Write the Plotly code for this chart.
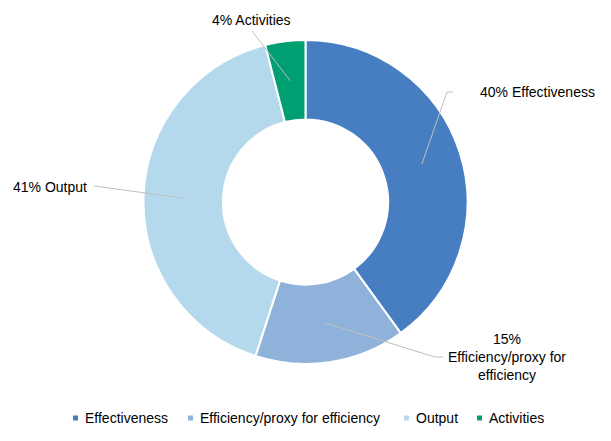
import math
import plotly.graph_objects as go

categories = ["Effectiveness", "Efficiency/proxy for efficiency", "Output", "Activities"]
shares = [40, 15, 41, 4]
label_texts = ["40% Effectiveness", "15%<br>Efficiency/proxy for<br>efficiency",
               "41% Output", "4% Activities"]
colors = ["#467EC1", "#8FB2DB", "#B5D9EC", "#009F72"]

# the page body keeps the browser's default 8px margin, so the figure is drawn
# 8px smaller and everything below is given in window pixels
PAGE = 8
W, H = 611 - PAGE, 441 - PAGE
M = dict(l=0, r=8, t=32, b=77)
PW = W - M["l"] - M["r"]
PH = H - M["t"] - M["b"]
HOLE = 0.51
R = min(PW, PH) / 2
CX = PAGE + M["l"] + PW / 2
CY = PAGE + M["t"] + PH / 2
FONT = "Liberation Sans, Arial, sans-serif"


def to_paper(px, py):
    """window pixel position -> paper coordinates"""
    fx, fy = px - PAGE, py - PAGE
    return (fx - M["l"]) / PW, (M["t"] + PH - fy) / PH


# leader line start: middle of the ring, at the slice's mid angle (clockwise from 12 o'clock)
anchors = []
cum = 0
for v in shares:
    mid = (cum + v / 2) / sum(shares) * 2 * math.pi
    cum += v
    r = R * (1 + HOLE) / 2
    anchors.append((CX + r * math.sin(mid), CY - r * math.cos(mid)))

# label placement (pixels): elbow points of the leader, text anchor
leader_ends = [[(447, 92), (453, 92)], [(435, 357), (443, 357)], [(94, 186)], [(252, 31)]]
text_pos = [(478, 92, "left"), (507, 357, "center"), (89, 187, "right"), (251, 20, "center")]
# legend row: left edge of each label text, row centre
legend_x = [83, 198, 414, 487]
legend_y = 418

fig = go.Figure()
fig.add_trace(go.Pie(
    labels=categories, values=shares, hole=HOLE, sort=False, direction="clockwise",
    rotation=0, textinfo="none", showlegend=False,
    marker=dict(colors=colors, line=dict(color="white", width=2)),
    domain=dict(x=[0, 1], y=[0, 1]),
))

shapes = []
annotations = []
for anchor, ends, (tx, ty, anc), txt in zip(anchors, leader_ends, text_pos, label_texts):
    pts = [to_paper(*anchor)] + [to_paper(*p) for p in ends]
    path = "M " + " L ".join(f"{x:.4f},{y:.4f}" for x, y in pts)
    shapes.append(dict(type="path", path=path, xref="paper", yref="paper",
                       line=dict(color="#BFBFBF", width=1), layer="above"))
    ax, ay = to_paper(tx, ty)
    annotations.append(dict(x=ax, y=ay, xref="paper", yref="paper", text=txt,
                            showarrow=False, xanchor=anc, yanchor="middle", align="center",
                            font=dict(family=FONT, size=14, color="black")))

# legend: small square key + label for each category
for name, c, lx in zip(categories, colors, legend_x):
    x0, y0 = to_paper(lx - 10, legend_y + 2.5)
    x1, y1 = to_paper(lx - 5, legend_y - 2.5)
    shapes.append(dict(type="rect", x0=x0, y0=y0, x1=x1, y1=y1, xref="paper", yref="paper",
                       fillcolor=c, line=dict(width=0)))
    ax, ay = to_paper(lx, legend_y)
    annotations.append(dict(x=ax, y=ay, xref="paper", yref="paper", text=name,
                            showarrow=False, xanchor="left", yanchor="middle",
                            font=dict(family=FONT, size=14, color="black")))

fig.update_layout(
    width=W, height=H, margin=M,
    paper_bgcolor="white", plot_bgcolor="white",
    font=dict(family=FONT, size=14, color="black"),
    showlegend=False,
    shapes=shapes, annotations=annotations,
)

fig.write_html("out.html")
